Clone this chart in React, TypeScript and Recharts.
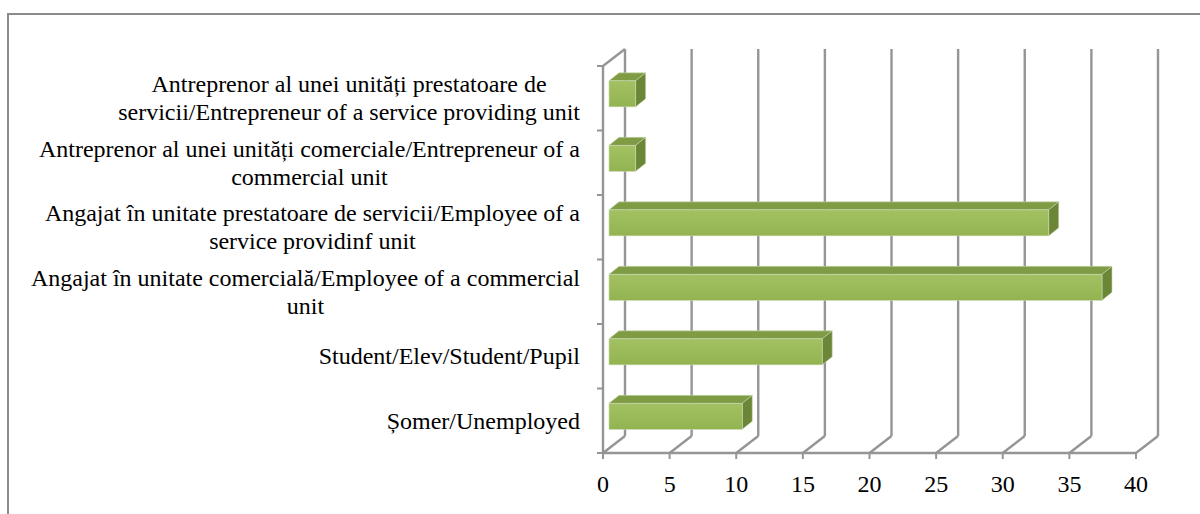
import React from "react";
import { BarChart, Bar, XAxis, YAxis, CartesianGrid } from "recharts";

// categories, top to bottom as in the chart
const categories = [
  "Antreprenor al unei unități prestatoare de servicii/Entrepreneur of a service providing unit",
  "Antreprenor al unei unități comerciale/Entrepreneur of a commercial unit",
  "Angajat în unitate prestatoare de servicii/Employee of a service providinf unit",
  "Angajat în unitate comercială/Employee of a commercial unit",
  "Student/Elev/Student/Pupil",
  "Șomer/Unemployed",
];
const respondents = [2, 2, 33, 37, 16, 10];
const xTicks = [0, 5, 10, 15, 20, 25, 30, 35, 40];

const data = categories.map((name, i) => ({ name, value: respondents[i] }));

const W = 1200;
const H = 514;
const MARGIN = { top: 66, right: 64, bottom: 0, left: 0 };
const Y_AXIS_W = 603;
const X_AXIS_H = 61;
const PLOT_H = H - MARGIN.top - MARGIN.bottom - X_AXIS_H;

// 3d offsets: back wall and the bar faces
const BACK_DX = 22;
const BACK_DY = -17;
const FRONT_DX = 6;
const FRONT_DY = -4.5;
const DEPTH_DX = 10;
const DEPTH_DY = -8;

const GRAY = "#959595";
const FONT = "'Liberation Serif', 'Times New Roman', serif";
const FONT_SIZE = 24;
const LINE_H = 27.6;
const WRAP_W = 560;

let ctx: CanvasRenderingContext2D | null = null;
function measure(text: string) {
  if (!ctx) ctx = document.createElement("canvas").getContext("2d");
  if (!ctx) return text.length * FONT_SIZE * 0.45;
  ctx.font = `${FONT_SIZE}px ${FONT}`;
  return ctx.measureText(text).width;
}

function wrap(text: string, max: number) {
  const words = text.split(" ");
  const lines: string[] = [];
  let cur = "";
  for (const w of words) {
    const next = cur ? cur + " " + w : w;
    if (cur && measure(next) > max) {
      lines.push(cur);
      cur = w;
    } else {
      cur = next;
    }
  }
  if (cur) lines.push(cur);
  return lines;
}

function CategoryTick(props: any) {
  const { x, y, payload, index } = props;
  const lines = wrap(String(payload.value), WRAP_W);
  const blockW = Math.max(...lines.map(measure));
  const cx = x - 23 - blockW / 2;
  const first = y + 8 - ((lines.length - 1) * LINE_H) / 2;
  const band = PLOT_H / categories.length;
  return (
    <g>
      <line x1={x - 6} x2={x} y1={y - band / 2} y2={y - band / 2} stroke={GRAY} strokeWidth={2} />
      {index === categories.length - 1 && (
        <line x1={x - 6} x2={x} y1={y + band / 2} y2={y + band / 2} stroke={GRAY} strokeWidth={2} />
      )}
      <text textAnchor="middle" fontFamily={FONT} fontSize={FONT_SIZE} fill="#000">
        {lines.map((l, i) => (
          <tspan key={i} x={cx} y={first + i * LINE_H}>
            {l}
          </tspan>
        ))}
      </text>
    </g>
  );
}

function ValueTick(props: any) {
  const { x, y, payload } = props;
  return (
    <text x={x} y={y + 33} textAnchor="middle" fontFamily={FONT} fontSize={FONT_SIZE} fill="#000">
      {payload.value}
    </text>
  );
}

function GridLine(props: any) {
  const { x1, y1, y2, index } = props;
  return (
    <g key={props.key}>
      <line x1={x1 + BACK_DX} x2={x1 + BACK_DX} y1={y1 + BACK_DY} y2={y2 + BACK_DY} stroke={GRAY} strokeWidth={2.4} />
      <line x1={x1} y1={y2} x2={x1 + BACK_DX} y2={y2 + BACK_DY} stroke={GRAY} strokeWidth={2.4} />
      {index === 0 && (
        <line x1={x1} y1={y1} x2={x1 + BACK_DX} y2={y1 + BACK_DY} stroke={GRAY} strokeWidth={2.4} />
      )}
    </g>
  );
}

function Bar3D(props: any) {
  const { x, y, width, height } = props;
  if (!width || width <= 0) return null;
  const fx = x + FRONT_DX;
  const fy = y + FRONT_DY;
  const top = `${fx},${fy} ${fx + DEPTH_DX},${fy + DEPTH_DY} ${fx + width + DEPTH_DX},${fy + DEPTH_DY} ${fx + width},${fy}`;
  const side = `${fx + width},${fy} ${fx + width + DEPTH_DX},${fy + DEPTH_DY} ${fx + width + DEPTH_DX},${fy + height + DEPTH_DY} ${fx + width},${fy + height}`;
  return (
    <g>
      <polygon points={top} fill="#7f9c44" stroke="#c8d6b0" strokeWidth={0.6} />
      <polygon points={side} fill="#6a8636" stroke="#c8d6b0" strokeWidth={0.6} />
      <rect x={fx} y={fy} width={width} height={height} fill="url(#barFront)" stroke="#c8d6b0" strokeWidth={0.6} />
    </g>
  );
}

export default function App() {
  return (
    <div style={{ position: "absolute", left: 0, top: 0, width: W, height: H, overflow: "hidden", background: "#fff" }}>
      <div
        style={{
          position: "absolute",
          left: 7,
          top: 13,
          width: 1300,
          height: 700,
          border: "2px solid #8c8c8c",
        }}
      />
      <div style={{ position: "absolute", left: 0, top: 0 }}>
        <BarChart width={W} height={H} data={data} layout="vertical" margin={MARGIN} barCategoryGap="30%">
          <defs>
            <linearGradient id="barFront" x1="0" y1="0" x2="0" y2="1">
              <stop offset="0%" stopColor="#a3c162" />
              <stop offset="100%" stopColor="#93b351" />
            </linearGradient>
          </defs>
          <CartesianGrid horizontal={false} vertical={GridLine} />
          <XAxis
            type="number"
            domain={[0, 40]}
            ticks={xTicks}
            height={X_AXIS_H}
            tickSize={6}
            tickMargin={0}
            tickLine={{ stroke: GRAY, strokeWidth: 2 }}
            axisLine={{ stroke: GRAY, strokeWidth: 2.4 }}
            tick={<ValueTick />}
            interval={0}
          />
          <YAxis
            type="category"
            dataKey="name"
            width={Y_AXIS_W}
            tickSize={0}
            tickMargin={0}
            tickLine={false}
            axisLine={{ stroke: GRAY, strokeWidth: 2.4 }}
            tick={<CategoryTick />}
            interval={0}
          />
          <Bar dataKey="value" shape={<Bar3D />} isAnimationActive={false} />
        </BarChart>
      </div>
    </div>
  );
}
